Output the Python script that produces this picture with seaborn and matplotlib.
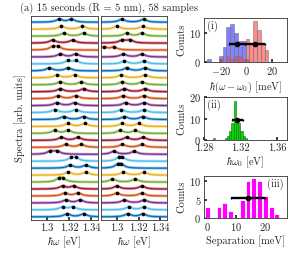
import numpy as np
import pandas as pd
import matplotlib
matplotlib.use("Agg")
import matplotlib.pyplot as plt
import seaborn as sns

# ---------------- data ----------------
# peak positions (eV) of the two modes for each spectrum, top to bottom
peaks_left = [
    (1.311, 1.322), (1.313, 1.332), (1.315, 1.333), (1.305, 1.323), (1.305, 1.310),
    (1.312, 1.326), (1.319, 1.326), (1.302, 1.319), (1.309, 1.325), (1.312, 1.331),
    (1.312, 1.333), (1.310, 1.326), (1.309, 1.325), (1.307, 1.326), (1.315, 1.333),
    (1.319, 1.334), (1.307, 1.319), (1.313, 1.328), (1.317, 1.331), (1.303, 1.309),
    (1.322, 1.326), (1.321, 1.335), (1.319, 1.335), (1.311, 1.314), (1.314, 1.324),
    (1.316, 1.328), (1.317, 1.330), (1.314, 1.323), (1.318, 1.333),
]
peaks_right = [
    (1.3045, 1.3245), (1.300, 1.324), (1.309, 1.323), (1.305, 1.312), (1.288, 1.297),
    (1.306, 1.323), (1.307, 1.325), (1.309, 1.326), (1.304, 1.326), (1.305, 1.323),
    (1.307, 1.326), (1.306, 1.325), (1.308, 1.325), (1.304, 1.325), (1.307, 1.324),
    (1.305, 1.320), (1.303, 1.317), (1.309, 1.324), (1.305, 1.323), (1.297, 1.316),
    (1.302, 1.305), (1.301, 1.304), (1.306, 1.325), (1.296, 1.317), (1.300, 1.323),
    (1.300, 1.323), (1.307, 1.325), (1.311, 1.325), (1.310, 1.324),
]
trace_colors = [(0, 0.447, 0.741), (0.929, 0.694, 0.125), (0.466, 0.674, 0.188),
                (0.635, 0.078, 0.184), (0.85, 0.325, 0.098), (0.494, 0.184, 0.556),
                (0.301, 0.745, 0.933)]

# (i) detuning histograms (meV)
det_bins = [-29, -26, -23, -20, -17, -14, -11, -8, -5, -2, 1, 4, 7, 10, 13, 16]
det_low = [1, 0, 0, 2, 5, 12, 13, 10, 7, 7, 1, 0, 0, 0, 0, 0]
det_high = [0, 0, 0, 1, 0, 2, 1, 2, 2, 1, 8, 6, 14, 11, 6, 4]
det_means = [-7.2, 6.9]
det_std = [6.4, 7.7]
det_bar_y = 6.0

# (ii) centre energy histogram (eV)
w0_bins = [1.29125, 1.29375, 1.29625, 1.29875, 1.30125, 1.30375, 1.30625, 1.30875, 1.31125,
           1.31375, 1.31625, 1.31875, 1.32125, 1.32375, 1.32625]
w0_counts = [1, 0, 0, 0, 0, 1, 2, 4, 8, 18, 9, 8, 4, 2, 1]
w0_mean, w0_std, w0_bar_y = 1.3165, 0.006, 9.3

# (iii) separation histogram (meV)
sep_bins = [0, 2, 4, 6, 8, 10, 12, 14, 16, 18, 20, 22, 24]
sep_counts = [3, 0, 3, 4, 2, 0, 5, 10, 11, 10, 6, 3, 1]
sep_mean, sep_std, sep_bar_y = 14.0, 6.0, 5.4

# ---------------- style ----------------
sns.set_theme(style="ticks")
plt.rcParams.update({
    "font.family": ["serif"],
    "font.serif": ["cmr10", "DejaVu Serif"],
    "mathtext.fontset": "cm",
    "axes.formatter.use_mathtext": True,
    "font.size": 7.5,
    "axes.labelsize": 7.5,
    "xtick.labelsize": 7.5,
    "ytick.labelsize": 7.5,
    "xtick.direction": "in",
    "ytick.direction": "in",
    "xtick.major.size": 2.0,
    "ytick.major.size": 2.0,
    "axes.linewidth": 0.6,
    "axes.edgecolor": "#333333",
    "xtick.major.pad": 2.5,
    "ytick.major.pad": 2.0,
})

W, H = 293, 254
fig = plt.figure(figsize=(W / 100, H / 100), dpi=100)


def ax_px(x0, y0, x1, y1):
    return fig.add_axes([x0 / W, 1 - y1 / H, (x1 - x0) / W, (y1 - y0) / H])


energy = np.linspace(1.283, 1.348, 400)
gamma = 0.0035
amp = 0.42


def lorentz_pair(e, p1, p2):
    return amp * (gamma ** 2 / ((e - p1) ** 2 + gamma ** 2)
                  + gamma ** 2 / ((e - p2) ** 2 + gamma ** 2))


def draw_spectra(ax, peaks):
    n = len(peaks)
    for i, (p1, p2) in enumerate(peaks):
        base = n - 1 - i
        y = base + lorentz_pair(energy, p1, p2)
        col = trace_colors[i % 7]
        sns.lineplot(x=energy, y=y, ax=ax, color=col, lw=2.0, alpha=0.45,
                     estimator=None, sort=False)
        sns.lineplot(x=energy, y=y, ax=ax, color=col, lw=0.9,
                     estimator=None, sort=False)
        px = np.array([p1, p2])
        sns.scatterplot(x=px, y=base + lorentz_pair(px, p1, p2), ax=ax, color="black",
                        s=7, linewidth=0, zorder=5)
    ax.set_xlim(1.2855, 1.346)
    ax.set_ylim(-0.45, n - 0.1)
    ax.set_yticks([])
    ax.set_xticks([1.3, 1.32, 1.34])
    ax.set_xticklabels(["1.3", "1.32", "1.34"])
    ax.set_xlabel(r"$\hbar\omega$ [eV]", labelpad=1.5)
    ax.set_ylabel("")


def hist(ax, centers, counts, width, **kw):
    df = pd.DataFrame({"x": [float(c) for c in centers], "w": [float(c) for c in counts]})
    sns.histplot(data=df, x="x", weights="w", binwidth=width,
                 binrange=(centers[0] - width / 2, centers[-1] + width / 2), ax=ax, **kw)


axL1 = ax_px(31, 16, 98, 220)
axL2 = ax_px(101, 16, 167, 220)
draw_spectra(axL1, peaks_left)
draw_spectra(axL2, peaks_right)

fig.text(20 / W, 1 - 118 / H, "Spectra [arb. units]", rotation=90, ha="center", va="center")
fig.text(109 / W, 1 - 8 / H, "(a) 15 seconds (R = 5 nm), 58 samples", ha="center", va="center")

eb = dict(color="black", lw=1.7, marker="o", ms=3.0, capsize=1.0, capthick=1.0, zorder=10)

# (i)
ax1 = ax_px(204, 18, 287, 62)
hist(ax1, det_bins, det_low, 3.0, color=(0.25, 0.25, 1.0), alpha=0.65,
     edgecolor="#777777", linewidth=0.4)
hist(ax1, det_bins, det_high, 3.0, color=(1.0, 0.25, 0.25), alpha=0.6,
     edgecolor="#777777", linewidth=0.4)
for m, s in zip(det_means, det_std):
    ax1.errorbar(m, det_bar_y, xerr=s, **eb)
ax1.set_xlim(-33, 32)
ax1.set_ylim(0, 15)
ax1.set_xticks([-20, 0, 20])
ax1.set_yticks([0, 10])
ax1.set_ylabel("Counts", labelpad=2)
ax1.set_xlabel(r"$\hbar(\omega-\omega_0)$ [meV]", labelpad=1.5)
ax1.text(0.04, 0.93, "(i)", transform=ax1.transAxes, ha="left", va="top")

# (ii)
ax2 = ax_px(204, 97, 287, 140)
hist(ax2, w0_bins, w0_counts, 0.0025, color=(0.0, 0.85, 0.0), alpha=1.0,
     edgecolor="#226622", linewidth=0.4)
ax2.errorbar(w0_mean, w0_bar_y, xerr=w0_std, **eb)
ax2.set_xlim(1.28, 1.371)
ax2.set_ylim(0, 20)
ax2.set_xticks([1.28, 1.32, 1.36])
ax2.set_xticklabels(["1.28", "1.32", "1.36"])
ax2.set_yticks([0, 10, 20])
ax2.set_ylabel("Counts", labelpad=2)
ax2.set_xlabel(r"$\hbar\omega_0$ [eV]", labelpad=1.5)
ax2.text(0.04, 0.93, "(ii)", transform=ax2.transAxes, ha="left", va="top")

# (iii)
ax3 = ax_px(204, 176, 287, 218)
hist(ax3, sep_bins, sep_counts, 2.0, color=(1.0, 0.0, 1.0), alpha=1.0,
     edgecolor="white", linewidth=0.6, shrink=0.85)
ax3.errorbar(sep_mean, sep_bar_y, xerr=sep_std, **eb)
ax3.set_xlim(-1.2, 27.5)
ax3.set_ylim(0, 11.5)
ax3.set_xticks([0, 10, 20])
ax3.set_yticks([0, 5, 10])
ax3.set_ylabel("Counts", labelpad=2)
ax3.set_xlabel("Separation [meV]", labelpad=1.5)
ax3.text(0.96, 0.93, "(iii)", transform=ax3.transAxes, ha="right", va="top",
         bbox=dict(facecolor="white", edgecolor="none", pad=0.5))

fig.savefig("out.png", dpi=100)
